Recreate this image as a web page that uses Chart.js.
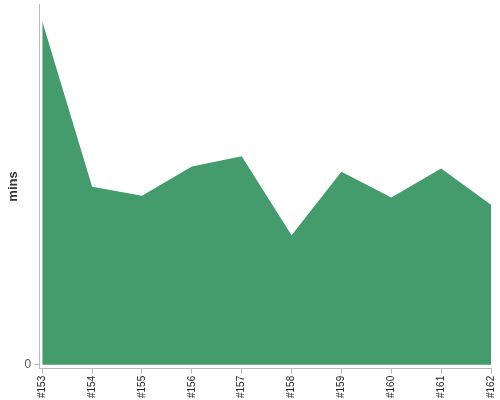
<!DOCTYPE html>
<html>
<head>
<meta charset="utf-8">
<script src="https://cdn.jsdelivr.net/npm/chart.js@4"></script>
<style>
  html, body { margin: 0; padding: 0; background: #fff; overflow: hidden; }
  /* chart.js keeps a few px free at top/right, pull the canvas out a bit */
  #wrap { position: absolute; left: 0; top: -6px; width: 505px; height: 406px; }
</style>
</head>
<body>
<div id="wrap"><canvas id="buildChart"></canvas></div>
<script>
const builds = ["#153", "#154", "#155", "#156", "#157", "#158", "#159", "#160", "#161", "#162"];
const minutes = [95.3, 49.4, 46.9, 55.0, 57.8, 35.9, 53.5, 46.4, 54.4, 44.4];
const yTicks = [0];

// the axes sit a few px away from the filled area, so use a linear x
const points = minutes.map((m, i) => ({ x: i, y: m }));

const ctx = document.getElementById("buildChart");
new Chart(ctx, {
  type: "line",
  data: {
    datasets: [{
      label: "mins",
      data: points,
      fill: "origin",
      backgroundColor: "#449c6c",
      borderColor: "#449c6c",
      borderWidth: 0,
      pointRadius: 0,
      tension: 0
    }]
  },
  options: {
    responsive: true,
    maintainAspectRatio: false,
    animation: false,
    layout: { padding: { top: 0, right: 0, left: 2 } },
    plugins: { legend: { display: false }, tooltip: { enabled: false } },
    scales: {
      x: {
        type: "linear",
        min: -0.06, max: builds.length - 1,
        afterBuildTicks: axis => { axis.ticks = builds.map((b, i) => ({ value: i })); },
        grid: { display: true, drawOnChartArea: false, color: "#bbb", tickLength: 5 },
        border: { color: "#bbb" },
        ticks: {
          minRotation: 90, maxRotation: 90, autoSkip: false,
          callback: v => builds[v],
          color: "#222", font: { family: "Liberation Sans", size: 10 }, padding: 2
        }
      },
      y: {
        min: -1.11, max: 100,
        afterBuildTicks: axis => { axis.ticks = yTicks.map(v => ({ value: v })); },
        grid: { display: true, drawOnChartArea: false, color: "#bbb", tickLength: 5 },
        border: { color: "#bbb" },
        title: {
          display: true, text: "mins", color: "#333", padding: { top: 4, bottom: 0 },
          font: { family: "Liberation Sans", size: 13, weight: "bold" }
        },
        ticks: { color: "#555", font: { family: "Liberation Sans", size: 12 }, padding: 3 }
      }
    }
  }
});
</script>
</body>
</html>
